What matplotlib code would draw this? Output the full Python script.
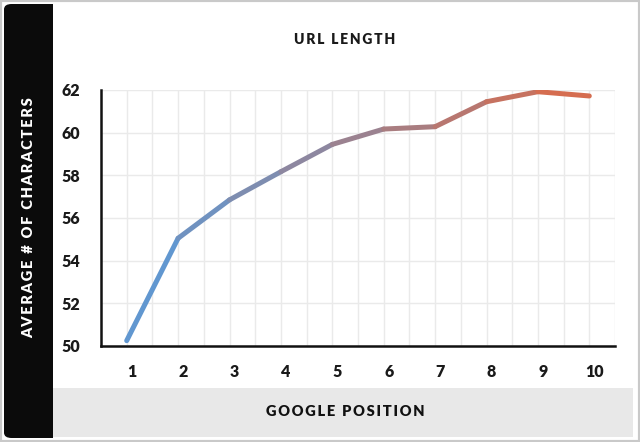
import matplotlib
matplotlib.use('Agg')
import matplotlib.pyplot as plt
import matplotlib.transforms as mtransforms
from matplotlib.collections import LineCollection
from matplotlib.patches import Rectangle, FancyBboxPatch
from matplotlib.colors import to_rgb
import numpy as np

# data
positions = [1, 2, 3, 4, 5, 6, 7, 8, 9, 10]
avg_chars = [50.25, 55.05, 56.85, 58.17, 59.45, 60.17, 60.28, 61.45, 61.92, 61.72]
y_ticks = [50, 52, 54, 56, 58, 60, 62]

title = 'URL LENGTH'
x_label = 'GOOGLE POSITION'
y_label = 'AVERAGE # OF CHARACTERS'

HS = '\u200a'


def spaced(s, n=2):
    # fake letter spacing with hair spaces
    return (HS * n).join(s)


plt.rcParams['font.family'] = ['Lato', 'DejaVu Sans']

W, H = 640, 442
fig = plt.figure(figsize=(W / 100, H / 100), dpi=100)
fig.patch.set_facecolor('white')


def px(x0, y0, x1, y1):
    # pixel box (top-left origin) -> figure fraction rect
    return x0 / W, 1 - y1 / H, (x1 - x0) / W, (y1 - y0) / H


# outer light frame
fig.patches.append(Rectangle((0, 0), 1, 1, transform=fig.transFigure,
                             facecolor='white', edgecolor='#c9c9c9', lw=3, zorder=-3))
# bottom grey band
x, y, w, h = px(53, 388, 633, 437)
fig.patches.append(Rectangle((x, y), w, h, transform=fig.transFigure,
                             facecolor='#e8e8e8', edgecolor='none', zorder=-2))
# dark left bar
x, y, w, h = px(4, 4, 53, 438)
fig.patches.append(FancyBboxPatch((x, y), w, h, transform=fig.transFigure,
                                  boxstyle='round,pad=0,rounding_size=0.012',
                                  facecolor='#0b0b0b', edgecolor='none', zorder=-2))
x, y, w, h = px(30, 4, 53, 438)
fig.patches.append(Rectangle((x, y), w, h, transform=fig.transFigure,
                             facecolor='#0b0b0b', edgecolor='none', zorder=-2))

ax = fig.add_axes(px(101, 90, 615, 346), zorder=5)
ax.set_facecolor('none')

# gradient line, one colour per segment
c0 = np.array(to_rgb('#5a9ad8'))
c1 = np.array(to_rgb('#dc6a48'))
pts = np.column_stack([positions, avg_chars])
segs = np.stack([pts[:-1], pts[1:]], axis=1)
n = len(segs)
cols = [c0 + (c1 - c0) * (i + 0.5) / n for i in range(n)]
lc = LineCollection(segs, colors=cols, linewidths=3.6, capstyle='round',
                    joinstyle='round', zorder=3)
ax.add_collection(lc)

ax.set_xlim(0.5, 10.5)
ax.set_ylim(50, 62)
ax.set_xticks(positions)
ax.set_xticks(np.arange(1.5, 10.6, 1.0), minor=True)
ax.set_yticks(y_ticks)
ax.grid(True, which='both', color='#eaeaea', lw=1, zorder=0)
ax.set_axisbelow(True)
ax.tick_params(axis='both', which='both', length=0)
ax.tick_params(axis='x', pad=13, labelsize=11.5, colors='#1a1a1a')
ax.tick_params(axis='y', pad=15, labelsize=11.5, colors='#1a1a1a')
for lab in ax.get_xticklabels() + ax.get_yticklabels():
    lab.set_fontweight('heavy')
for lab in ax.get_xticklabels():
    lab.set_transform(lab.get_transform() + mtransforms.ScaledTranslation(5 / 100, 0, fig.dpi_scale_trans))

for s in ['top', 'right']:
    ax.spines[s].set_visible(False)
for s in ['left', 'bottom']:
    ax.spines[s].set_color('#111111')
    ax.spines[s].set_linewidth(1.8)
    ax.spines[s].set_zorder(4)

fig.text(345 / W, 1 - 39 / H, spaced(title), ha='center', va='center',
         fontsize=10, color='#1a1a1a', fontweight='heavy')
fig.text(345 / W, 1 - 412 / H, spaced(x_label), ha='center', va='center',
         fontsize=10.5, color='#111111', fontweight='heavy')
fig.text(29 / W, 1 - 218 / H, spaced(y_label), ha='center', va='center',
         rotation=90, fontsize=10.5, color='white', fontweight='heavy')

fig.savefig('out.png', dpi=100, facecolor=fig.get_facecolor())
